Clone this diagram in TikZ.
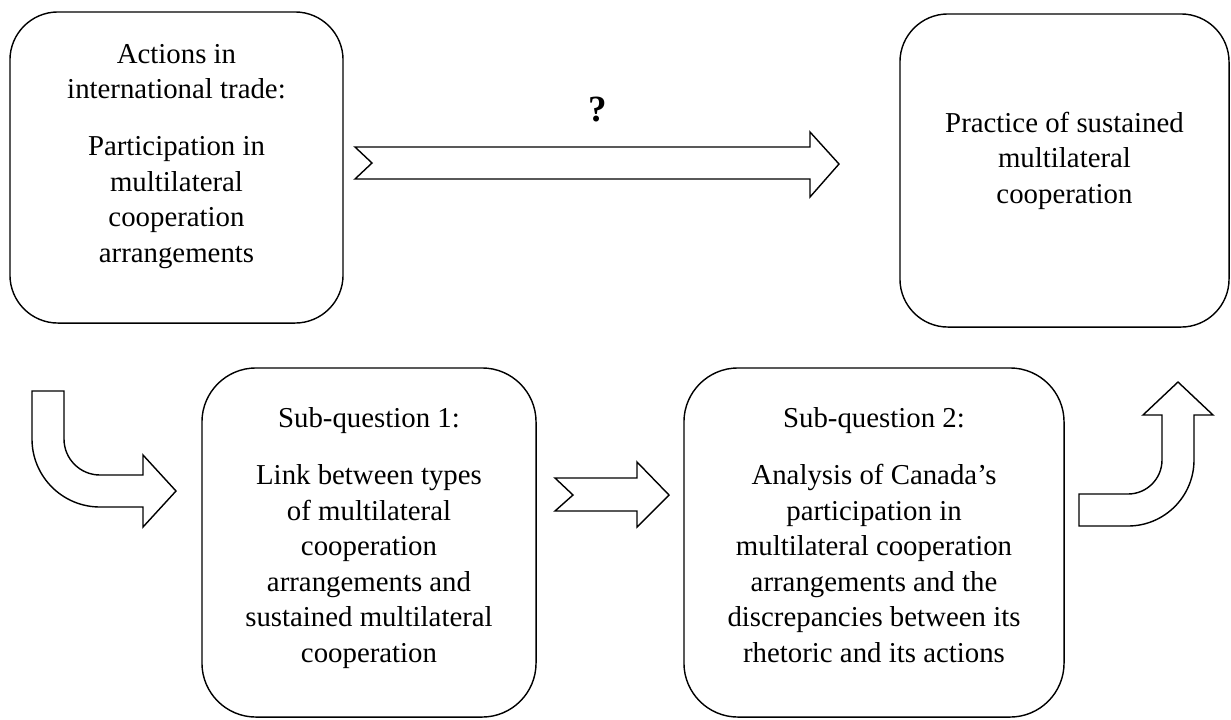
\documentclass[tikz,border=0pt]{standalone}
\usepackage{fontspec}
\setmainfont{Liberation Serif}
\usepackage{tikz}

\begin{document}
\begin{tikzpicture}[x=0.025cm, y=-0.025cm, line width=1pt,
    box/.style={draw, rounded corners=1.2cm, align=center, text depth=0pt,
        font=\fontsize{20.5}{25.2}\selectfont},
    blockarrow/.style={draw, fill=white, line join=miter}]
    \useasboundingbox (0,0) rectangle (1231,719);

    % Actions
    \node[box, text height=4.725cm, minimum width=8.325cm, minimum height=7.775cm] (actions) at (176.5,167.5)
        {Actions in\\ international trade:\\[15.3pt] Participation in\\ multilateral\\ cooperation\\ arrangements};

    % Practice
    \node[box, text height=1.625cm, minimum width=8.225cm, minimum height=7.825cm] (practice) at (1064.5,170.5)
        {Practice of sustained\\ multilateral\\ cooperation};

    % Sub-question 1
    \node[box, text height=5.975cm, rounded corners=1.35cm, minimum width=8.35cm, minimum height=8.725cm] (sub1) at (369,542.5)
        {Sub-question 1:\\[15.3pt] Link between types\\ of multilateral\\ cooperation\\ arrangements and\\ sustained multilateral\\ cooperation};

    % Sub-question 2
    \node[box, text height=5.975cm, rounded corners=1.35cm, minimum width=9.5cm, minimum height=8.725cm] (sub2) at (874,542.5)
        {Sub-question 2:\\[15.3pt] Analysis of Canada's\\ participation in\\ multilateral cooperation\\ arrangements and the\\ discrepancies between its\\ rhetoric and its actions};

    % Question mark
    \node[font=\bfseries\fontsize{26.3}{30}\selectfont] (question) at (598,110) {?};

    % Long arrow
    \draw[blockarrow] (355,147) -- (810,147) -- (810,132) -- (839,164) -- (810,197)
        -- (810,179) -- (355,179) -- (372,163) -- cycle;

    % Short arrow
    \draw[blockarrow] (555,478) -- (637,478) -- (637,462) -- (669,495) -- (637,527)
        -- (637,511) -- (555,511) -- (573,495) -- cycle;

    % Bent arrow, left
    \draw[blockarrow] (32,391) -- (64,391) -- (64,439) arc[start angle=180, end angle=90, radius=36]
        -- (143,475) -- (143,455) -- (176,491) -- (143,527) -- (143,507)
        -- (100,507) arc[start angle=90, end angle=180, radius=68] -- cycle;

    % Bent arrow, right
    \draw[blockarrow] (1079,494) -- (1128,494) arc[start angle=90, end angle=0, radius=34]
        -- (1162,415) -- (1143,415) -- (1178,382) -- (1213,415) -- (1194,415)
        -- (1194,460) arc[start angle=0, end angle=90, radius=66] -- (1079,526) -- cycle;
\end{tikzpicture}
\end{document}
